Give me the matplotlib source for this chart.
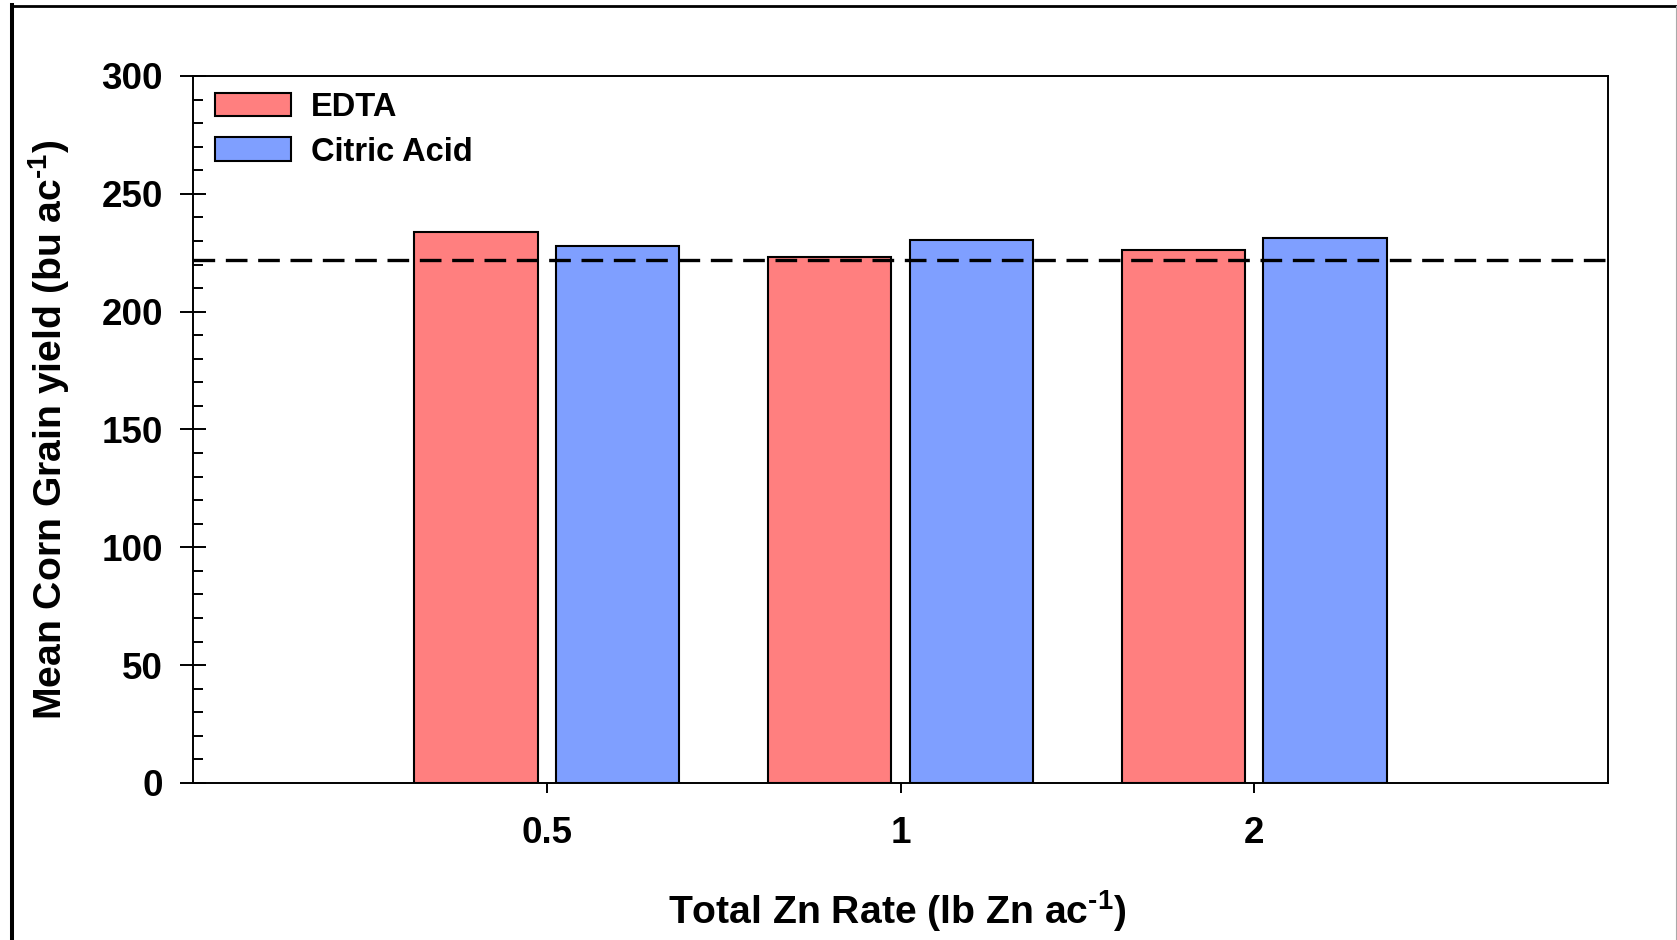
import matplotlib
matplotlib.use("Agg")
import matplotlib.pyplot as plt
import numpy as np
from matplotlib.lines import Line2D
from matplotlib.ticker import MultipleLocator

plt.rcParams['font.family'] = ['Liberation Sans', 'DejaVu Sans']
plt.rcParams['font.weight'] = 'bold'
plt.rcParams['mathtext.fontset'] = 'custom'
plt.rcParams['mathtext.rm'] = 'Liberation Sans:bold'
plt.rcParams['mathtext.bf'] = 'Liberation Sans:bold'
plt.rcParams['mathtext.it'] = 'Liberation Sans:bold'
plt.rcParams['mathtext.default'] = 'bf'

# Data
categories = ['0.5', '1', '2']
series_names = ['EDTA', 'Citric Acid']
edta = [233.8, 223.0, 226.0]
citric = [227.9, 230.4, 231.3]
control_mean = 222.0

colors = ['#FF7F7F', '#7F9FFF']

W, H, DPI = 1677, 940, 100
fig = plt.figure(figsize=(W / DPI, H / DPI), dpi=DPI)
ax = fig.add_axes([193 / W, 1 - 783 / H, (1608 - 193) / W, (783 - 76) / H])

x = np.arange(len(categories))
bw = 0.348
off = 0.2
ax.bar(x - off, edta, width=bw, color=colors[0], edgecolor='black', linewidth=1.5,
       label=series_names[0], zorder=2)
ax.bar(x + off, citric, width=bw, color=colors[1], edgecolor='black', linewidth=1.5,
       label=series_names[1], zorder=2)
ax.axhline(control_mean, color='black', linewidth=2.4, linestyle=(0, (6.5, 3.2)), zorder=3)

ax.set_xlim(-1, 3)
ax.set_ylim(0, 300)
ax.set_xticks(x)
ax.set_xticklabels(categories)
ax.yaxis.set_major_locator(MultipleLocator(50))
ax.yaxis.set_minor_locator(MultipleLocator(10))

for s in ax.spines.values():
    s.set_linewidth(1.4)

ax.tick_params(axis='y', which='major', direction='inout', length=19.4, width=1.4,
               pad=12, labelsize=26.5)
ax.tick_params(axis='y', which='minor', direction='in', length=7, width=1.4)
ax.tick_params(axis='x', which='major', direction='out', length=7, width=1.4,
               pad=17, labelsize=26.5)
for lab in ax.get_xticklabels() + ax.get_yticklabels():
    lab.set_fontweight('bold')

fig.text(49 / W, 1 - 430 / H, r'Mean Corn Grain yield (bu ac$^{\text{-}1}$)', rotation=90,
         ha='center', va='center', fontsize=28.2, fontweight='bold')
fig.text(897 / W, 1 - 911 / H, r'Total Zn Rate (lb Zn ac$^{\text{-}1}$)',
         ha='center', va='center', fontsize=28.2, fontweight='bold')

leg = ax.legend(loc='upper left', bbox_to_anchor=(22 / 1415, 1 - 16 / 707), frameon=False,
                fontsize=23.5, handlelength=2.33, handleheight=0.74, handletextpad=0.6,
                labelspacing=0.42, borderpad=0, borderaxespad=0)
for t in leg.get_texts():
    t.set_fontweight('bold')

# figure frame
fig.add_artist(Line2D([12 / W, 12 / W], [0, 1 - 5 / H], transform=fig.transFigure,
                      color='black', linewidth=2.9, solid_capstyle='projecting'))
fig.add_artist(Line2D([12 / W, 1], [1 - 6 / H, 1 - 6 / H], transform=fig.transFigure,
                      color='black', linewidth=2.0, solid_capstyle='projecting'))
fig.add_artist(Line2D([1675.5 / W, 1675.5 / W], [0, 1 - 6 / H], transform=fig.transFigure,
                      color='#aaaaaa', linewidth=0.8))

fig.savefig('out.png', dpi=DPI)
